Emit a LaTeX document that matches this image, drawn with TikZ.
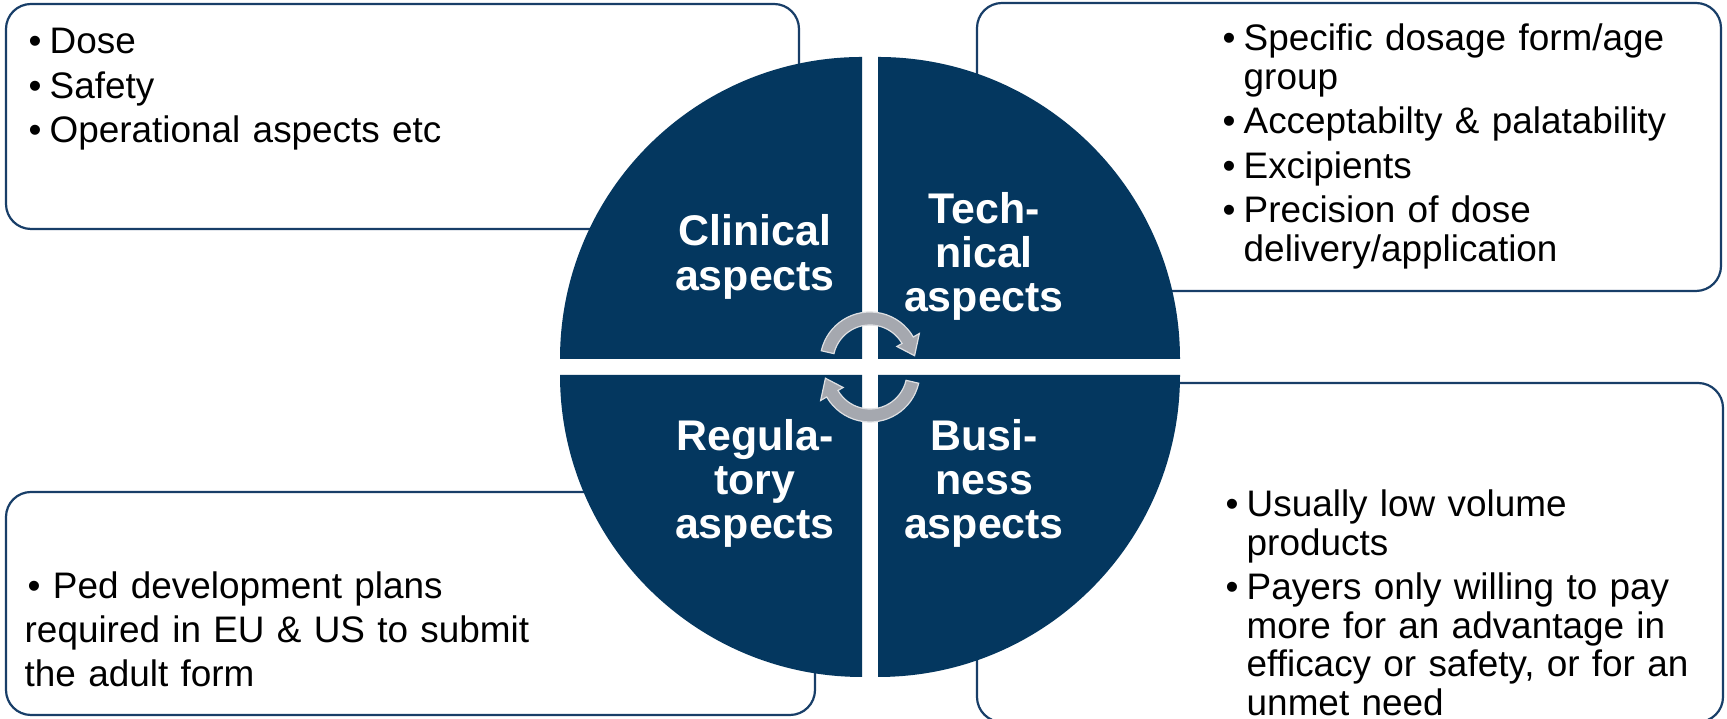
\documentclass[tikz,border=0pt]{standalone}
\usepackage{fontspec}
\setmainfont{Liberation Sans}

\definecolor{navy}{RGB}{4,55,95}
\definecolor{boxline}{RGB}{24,62,104}
\definecolor{arrowgrey}{RGB}{165,168,175}
\definecolor{arrowrim}{RGB}{222,224,227}

% one bullet paragraph, later lines hang under the text
\newcommand{\bul}[1]{\parskip=0.6mm\hangindent=2.1mm\hangafter=1\noindent\hbox to 2.1mm{\textbullet\hfil}#1\par}

\begin{document}
\begin{tikzpicture}[x=0.1mm, y=0.1mm,
    infobox/.style = {draw=boxline, line width=0.22mm, rounded corners=2.5mm, fill=white, inner sep=0},
    quarter/.style = {fill=navy},
    roundarrow/.style = {fill=arrowgrey, draw=arrowrim, line width=0.12mm},
    wheeltext/.style = {text=white, align=center, inner sep=0, font=\fontsize{12.2}{12.6}\selectfont\bfseries},
    bullets/.style = {text width=#1, align=left, inner sep=0, anchor=base west, font=\fontsize{10.5}{10.95}\selectfont},
    ]
    \useasboundingbox (0,0) rectangle (1727,719);
    \fill[white] (0,0) rectangle (1727,719);

    % text boxes sitting behind the wheel
    \node[infobox, minimum width=79.3mm, minimum height=22.5mm] (clinbox) at (402.5,602.5) {};
    \node[infobox, minimum width=74.4mm, minimum height=28.8mm] (techbox) at (1349,572) {};
    \node[infobox, minimum width=80.9mm, minimum height=22.3mm] (regbox) at (410.5,115.5) {};
    \node[infobox, minimum width=74.6mm, minimum height=33.9mm] (busbox) at (1350,166.5) {};

    % wheel: four quarters with a gap between them
    \coordinate (c) at (870,352);
    \foreach \sx/\sy/\a in {-1/1/90, 1/1/0, -1/-1/180, 1/-1/270}
        \fill[quarter] ([shift={(8*\sx,8*\sy)}]c) -- ++(\a:302) arc[start angle=\a, delta angle=90, radius=302] -- cycle;

    % the two turning arrows
    \foreach \r in {0,180}
        \filldraw[roundarrow, shift={(c)}, rotate=\r, shift={(0,5)}] (167:50) arc[start angle=167, end angle=30, radius=50]
            -- (30:57) -- (8:45) -- (30:31) -- (30:37) arc[start angle=30, end angle=167, radius=37] -- cycle;

    \node[wheeltext] (clin) at (755,462) {Clinical\\aspects};
    \node[wheeltext] (tech) at (984,462.5) {Tech-\\nical\\aspects};
    \node[wheeltext] (reg) at (755,235.5) {Regula-\\tory\\aspects};
    \node[wheeltext] (bus) at (984,235.5) {Busi-\\ness\\aspects};

    \node[bullets=70mm] (clinlist) at (28,665) {\bul{Dose}\bul{Safety}\bul{Operational aspects etc}};
    \node[bullets=48mm] (techlist) at (1222,668) {\bul{Specific dosage form/age\newline group}\bul{Acceptabilty \& palatability}\bul{Excipients}\bul{Precision of dose\newline delivery/application}};
    \node[bullets=75mm, font=\fontsize{10.5}{12.4}\selectfont] (reglist) at (24,120) {\hspace*{0.3mm}\textbullet{} Ped development plans\newline required in EU \& US to submit\newline the adult form};
    \node[bullets=50mm] (buslist) at (1225,202) {\bul{Usually low volume\newline products}\bul{Payers only willing to pay\newline more for an advantage in\newline efficacy or safety, or for an\newline unmet need}};
\end{tikzpicture}
\end{document}
